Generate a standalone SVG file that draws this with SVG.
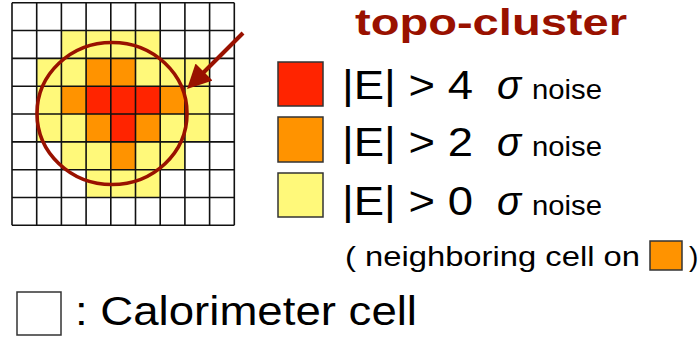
<svg xmlns="http://www.w3.org/2000/svg" width="700" height="344" viewBox="0 0 700 344">
<defs>
<style>
.r{fill:#FF2400}.o{fill:#FF9300}.y{fill:#FFF97A}
.sw{stroke:#333;stroke-width:1.5}
.t{font-family:"Liberation Sans","Noto Sans",sans-serif;fill:#000}
.big{font-size:40px}
.sm{font-size:28px}
.sig{font-size:40px;font-style:italic}
</style>
<marker id="ah" markerWidth="6" markerHeight="6" refX="4.6" refY="3" orient="auto" markerUnits="strokeWidth" viewBox="0 0 6 6">
<path d="M0,0 L6,3 L0,6 z" fill="#991100"/>
</marker>
</defs>
<rect width="700" height="344" fill="#fff"/>
<g id="grid">
<g id="cells">
<rect class="y" x="61.4" y="30.5" width="98.8" height="27.8"/>
<rect class="y" x="36.7" y="58.4" width="172.9" height="27.8"/>
<rect class="o" x="86.1" y="58.4" width="49.4" height="27.8"/>
<rect class="y" x="36.7" y="86.2" width="172.9" height="27.8"/>
<rect class="o" x="61.4" y="86.2" width="123.5" height="27.8"/>
<rect class="r" x="86.1" y="86.2" width="74.1" height="27.8"/>
<rect class="y" x="36.7" y="114.0" width="172.9" height="27.8"/>
<rect class="o" x="86.1" y="114.0" width="74.1" height="27.8"/>
<rect class="r" x="110.8" y="114.0" width="24.7" height="27.8"/>
<rect class="y" x="61.4" y="141.9" width="123.5" height="27.8"/>
<rect class="o" x="110.8" y="141.9" width="24.7" height="27.8"/>
<rect class="y" x="86.1" y="169.7" width="74.1" height="27.8"/>
</g>
<path id="lines" fill="none" stroke="#111" stroke-width="1.6" d="M12,2.7V225.3M36.7,2.7V225.3M61.4,2.7V225.3M86.1,2.7V225.3M110.8,2.7V225.3M135.5,2.7V225.3M160.2,2.7V225.3M184.9,2.7V225.3M209.6,2.7V225.3M234.3,2.7V225.3M12,2.7H234.3M12,30.5H234.3M12,58.4H234.3M12,86.2H234.3M12,114H234.3M12,141.9H234.3M12,169.7H234.3M12,197.5H234.3M12,225.3H234.3"/>
</g>
<g id="cluster-outline">
<ellipse cx="112" cy="113.5" rx="75" ry="71" fill="none" stroke="#991100" stroke-width="3.6"/>
</g>
<g id="connectors">
<line x1="243" y1="33" x2="191" y2="85" stroke="#991100" stroke-width="4" marker-end="url(#ah)"/>
</g>
<g id="title">
<text x="355" y="35" font-family="Liberation Sans, Noto Sans, sans-serif" font-weight="bold" font-size="37" fill="#991100" textLength="272" lengthAdjust="spacingAndGlyphs">topo-cluster</text>
</g>
<g id="legend-4sigma">
<rect class="r sw" x="278" y="62" width="45" height="44"/>
<text class="t big" x="342" y="99" textLength="131" lengthAdjust="spacingAndGlyphs">|E| &gt; 4</text>
<text class="t sig" x="497" y="99">σ</text>
<text class="t sm" x="532" y="99" textLength="70" lengthAdjust="spacingAndGlyphs">noise</text>
</g>
<g id="legend-2sigma">
<rect class="o sw" x="278" y="117" width="45" height="45"/>
<text class="t big" x="342" y="156" textLength="131" lengthAdjust="spacingAndGlyphs">|E| &gt; 2</text>
<text class="t sig" x="497" y="156">σ</text>
<text class="t sm" x="532" y="156" textLength="70" lengthAdjust="spacingAndGlyphs">noise</text>
</g>
<g id="legend-0sigma">
<rect class="y sw" x="278" y="173" width="45" height="44"/>
<text class="t big" x="342" y="215" textLength="131" lengthAdjust="spacingAndGlyphs">|E| &gt; 0</text>
<text class="t sig" x="497" y="215">σ</text>
<text class="t sm" x="532" y="215" textLength="70" lengthAdjust="spacingAndGlyphs">noise</text>
</g>
<g id="legend-neighbor">
<text class="t sm" x="345" y="266" textLength="295" lengthAdjust="spacingAndGlyphs">( neighboring cell on</text>
<rect class="o sw" x="650" y="241" width="32" height="29"/>
<text class="t sm" x="689" y="266">)</text>
</g>
<g id="legend-cell">
<rect fill="#fff" class="sw" x="17" y="292" width="44" height="43"/>
<text class="t big" x="75" y="325" textLength="342" lengthAdjust="spacingAndGlyphs">: Calorimeter cell</text>
</g>
</svg>
